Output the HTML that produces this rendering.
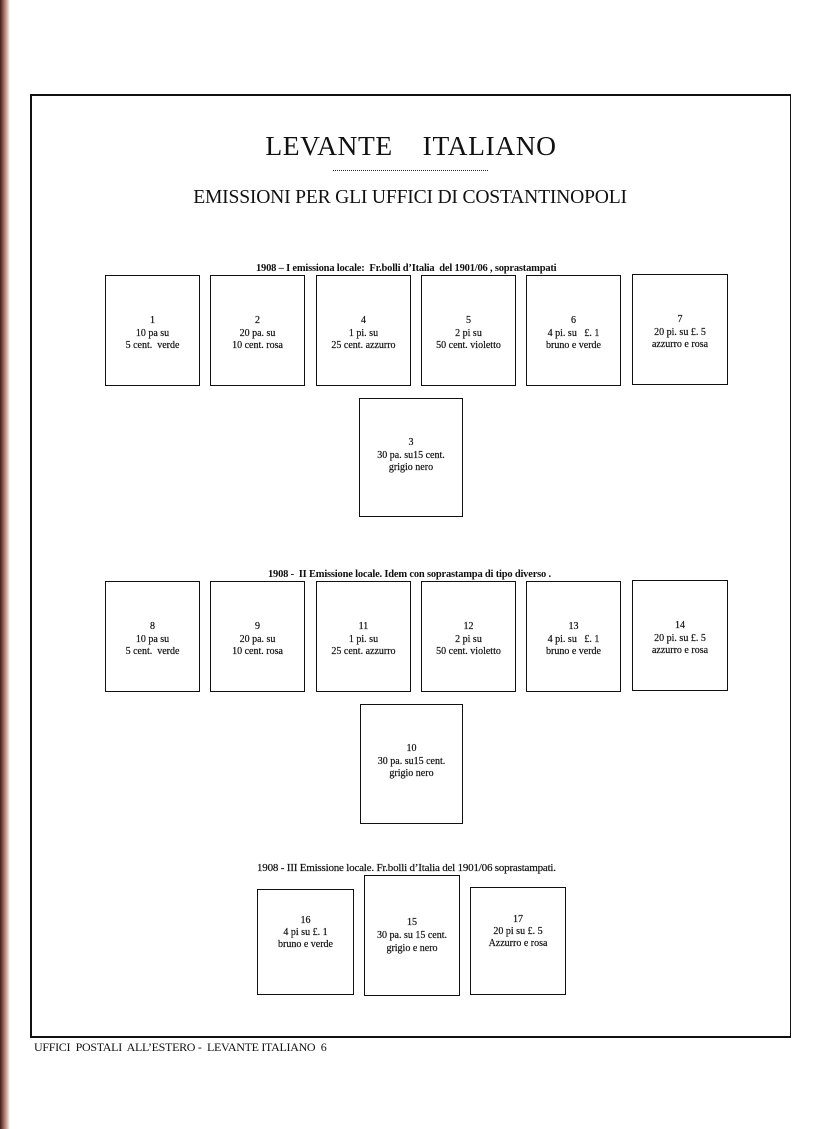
<!DOCTYPE html>
<html><head><meta charset="utf-8"><style>
html,body{margin:0;padding:0}
body{width:838px;height:1129px;position:relative;background:#fff;overflow:hidden;font-family:"Liberation Serif",serif;color:#111}
.strip{position:absolute;left:0;top:0;width:10px;height:1129px;background:linear-gradient(90deg,#3a1e1a 0,#8a5a50 30%,#d9b0a4 70%,#fff 100%)}
.frame{position:absolute;left:30px;top:94px;width:761px;height:944px;border:2px solid #111;border-right-width:1px;box-sizing:border-box}
.b{position:absolute;border:1.5px solid #111;box-sizing:border-box;text-align:center;font-size:10px;line-height:12.5px;-webkit-text-stroke:0.2px #111}
.l{position:absolute;white-space:nowrap;font-size:10.5px;font-weight:bold;letter-spacing:-0.2px}
</style></head><body>
<div class="strip"></div>
<div class="frame"></div>
<div style="position:absolute;left:251px;top:130px;width:320px;text-align:center;font-size:27.5px;letter-spacing:0.6px;white-space:nowrap">LEVANTE&nbsp;&nbsp;&nbsp;&nbsp;ITALIANO</div>
<div style="position:absolute;left:333px;top:170px;width:155px;border-top:1px dotted #222"></div>
<div style="position:absolute;left:183px;top:187px;width:454px;text-align:center;font-size:19.6px;white-space:nowrap;letter-spacing:-0.2px">EMISSIONI PER GLI UFFICI DI COSTANTINOPOLI</div>

<div class="l" style="left:256px;top:263px">1908 – I emissiona locale:&nbsp; Fr.bolli d’Italia&nbsp; del 1901/06 , soprastampati</div>
<div class="b" style="left:105px;top:275px;width:95px;height:111px;padding-top:39px">1<br>10 pa su<br>5 cent.&nbsp; verde</div>
<div class="b" style="left:210px;top:275px;width:95px;height:111px;padding-top:39px">2<br>20 pa. su<br>10 cent. rosa</div>
<div class="b" style="left:316px;top:275px;width:95px;height:111px;padding-top:39px">4<br>1 pi. su<br>25 cent. azzurro</div>
<div class="b" style="left:421px;top:275px;width:95px;height:111px;padding-top:39px">5<br>2 pi su<br>50 cent. violetto</div>
<div class="b" style="left:526px;top:275px;width:95px;height:111px;padding-top:39px">6<br>4 pi. su&nbsp;&nbsp; £. 1<br>bruno e verde</div>
<div class="b" style="left:632px;top:274px;width:96px;height:111px;padding-top:39px">7<br>20 pi. su £. 5<br>azzurro e rosa</div>
<div class="b" style="left:359px;top:398px;width:104px;height:119px;padding-top:38px">3<br>30 pa. su15 cent.<br>grigio nero</div>

<div class="l" style="left:268px;top:569px">1908 -&nbsp; II Emissione locale. Idem con soprastampa di tipo diverso .</div>
<div class="b" style="left:105px;top:581px;width:95px;height:111px;padding-top:39px">8<br>10 pa su<br>5 cent.&nbsp; verde</div>
<div class="b" style="left:210px;top:581px;width:95px;height:111px;padding-top:39px">9<br>20 pa. su<br>10 cent. rosa</div>
<div class="b" style="left:316px;top:581px;width:95px;height:111px;padding-top:39px">11<br>1 pi. su<br>25 cent. azzurro</div>
<div class="b" style="left:421px;top:581px;width:95px;height:111px;padding-top:39px">12<br>2 pi su<br>50 cent. violetto</div>
<div class="b" style="left:526px;top:581px;width:95px;height:111px;padding-top:39px">13<br>4 pi. su&nbsp;&nbsp; £. 1<br>bruno e verde</div>
<div class="b" style="left:632px;top:580px;width:96px;height:111px;padding-top:39px">14<br>20 pi. su £. 5<br>azzurro e rosa</div>
<div class="b" style="left:360px;top:704px;width:103px;height:120px;padding-top:38px">10<br>30 pa. su15 cent.<br>grigio nero</div>

<div class="l" style="left:257px;top:862px;font-weight:normal;font-size:11px;-webkit-text-stroke:0.2px #111">1908 - III Emissione locale. Fr.bolli d’Italia del 1901/06 soprastampati.</div>
<div class="b" style="left:257px;top:889px;width:97px;height:106px;padding-top:25px;line-height:12px">16<br>4 pi su £. 1<br>bruno e verde</div>
<div class="b" style="left:364px;top:875px;width:96px;height:121px;padding-top:40px;line-height:13px">15<br>30 pa. su 15 cent.<br>grigio e nero</div>
<div class="b" style="left:470px;top:887px;width:96px;height:108px;padding-top:26px;line-height:12px">17<br>20 pi su £. 5<br>Azzurro e rosa</div>

<div style="position:absolute;left:34px;top:1040px;font-size:12px;white-space:nowrap;letter-spacing:-0.3px">UFFICI&nbsp; POSTALI&nbsp; ALL’ESTERO -&nbsp; LEVANTE ITALIANO&nbsp; 6</div>
</body></html>
